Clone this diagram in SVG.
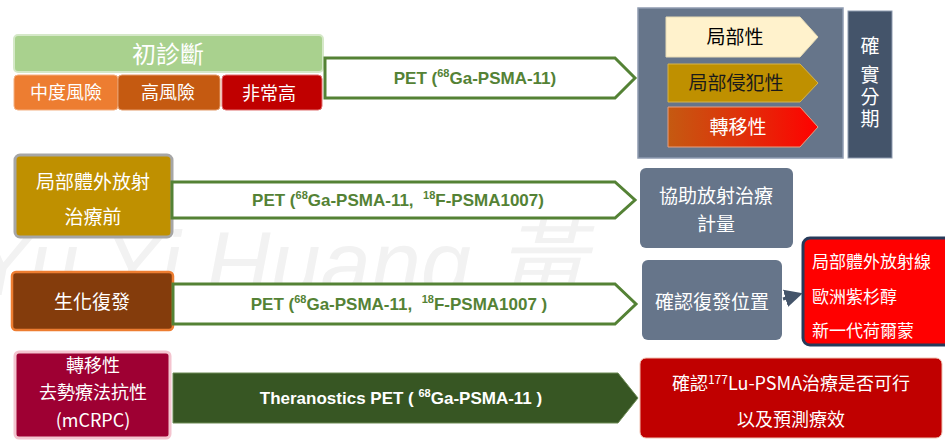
<svg xmlns="http://www.w3.org/2000/svg" width="945" height="443" viewBox="0 0 945 443">
<defs>
<style>
.cjk{font-family:"Noto Sans CJK TC","Noto Sans",sans-serif;}
.lat{font-family:"Liberation Sans","Noto Sans CJK TC",sans-serif;font-weight:bold;}
.w{fill:#ffffff;}
.g{fill:#548235;}
.outl{fill:#ffffff;stroke:#548235;stroke-width:3;}
.grey{fill:#66758a;}
</style>
<linearGradient id="red" x1="0" y1="0" x2="1" y2="0">
<stop offset="0" stop-color="#c55a11"/>
<stop offset="0.5" stop-color="#e0300a"/>
<stop offset="1" stop-color="#ff0000"/>
</linearGradient>
<marker id="ah" markerWidth="6" markerHeight="6" refX="4" refY="3" orient="auto" markerUnits="strokeWidth">
<path d="M0,0 L6,3 L0,6 z" fill="#44546a"/>
</marker>
</defs>
<rect width="945" height="443" fill="#ffffff"/>
<g id="watermark">
<text x="-28" y="295" font-family="Liberation Sans,sans-serif" font-style="italic" font-size="90" fill="#f2f2f2">Yu Yi Huang <tspan class="cjk">黃</tspan></text>
</g>

<g id="diag">
<rect x="14" y="35" width="309" height="37" rx="4" fill="#a9d18e" stroke="#d5e8c8" stroke-width="2"/>
<text x="168" y="63" class="cjk w" font-size="24" text-anchor="middle">初診斷</text>
</g>
<g id="risk-mid">
<rect x="14" y="75" width="104" height="35" rx="4" fill="#ed7d31" stroke="#f4b183" stroke-width="1"/>
<text x="66" y="99" class="cjk w" font-size="18" text-anchor="middle">中度風險</text>
</g>
<g id="risk-high">
<rect x="118" y="75" width="102" height="35" rx="4" fill="#c55a11" stroke="#e39b6b" stroke-width="1"/>
<text x="168" y="99" class="cjk w" font-size="18" text-anchor="middle">高風險</text>
</g>
<g id="risk-vhigh">
<rect x="222" y="75" width="100" height="35" rx="4" fill="#c00000" stroke="#e07070" stroke-width="1"/>
<text x="269" y="100" class="cjk w" font-size="18" text-anchor="middle">非常高</text>
</g>

<g id="staging">
<rect x="638" y="8" width="205" height="150" fill="#66758a" stroke="#8e9bb0" stroke-width="1.5"/>
<polygon points="666,17 800,17 818,37 800,57 666,57" fill="#fff2cc" stroke="#e8dcb5" stroke-width="1"/>
<text x="735" y="44" class="cjk" font-size="19" fill="#000" text-anchor="middle">局部性</text>
<polygon points="668,64 800,64 818,83 800,102 668,102" fill="#bf9000" stroke="#d8b44a" stroke-width="1"/>
<text x="736" y="90" class="cjk" font-size="19" fill="#1a1a1a" text-anchor="middle">局部侵犯性</text>
<polygon points="668,107 800,107 818,127 800,147 668,147" fill="url(#red)" stroke="#e8a080" stroke-width="1"/>
<text x="738" y="134" class="cjk w" font-size="19" text-anchor="middle">轉移性</text>
</g>
<g id="staging-label">
<rect x="848" y="11" width="44" height="147" fill="#44546a" stroke="#8e9bb0" stroke-width="1"/>
<text class="cjk w" font-size="19" text-anchor="middle"><tspan x="870" y="53">確</tspan><tspan x="870" y="82">實</tspan><tspan x="870" y="104">分</tspan><tspan x="870" y="126">期</tspan></text>
</g>

<g id="pre-ebrt">
<rect x="15" y="155" width="157" height="82" rx="5" fill="#bf9000" stroke="#a6a6a6" stroke-width="3"/>
<text x="93" y="189" class="cjk w" font-size="19" text-anchor="middle">局部體外放射</text>
<text x="93" y="224" class="cjk w" font-size="19" text-anchor="middle">治療前</text>
</g>
<g id="plan">
<rect x="640" y="168" width="153" height="80" rx="6" class="grey"/>
<text x="716" y="203" class="cjk w" font-size="19" text-anchor="middle">協助放射治療</text>
<text x="716" y="231" class="cjk w" font-size="19" text-anchor="middle">計量</text>
</g>

<g id="bcr">
<rect x="12" y="272" width="161" height="58" rx="4" fill="#843c0c" stroke="#ed7d31" stroke-width="2.5"/>
<text x="92" y="309" class="cjk w" font-size="19" text-anchor="middle">生化復發</text>
</g>
<g id="locate">
<rect x="642" y="260" width="140" height="80" rx="6" class="grey"/>
<text x="712" y="309" class="cjk w" font-size="19" text-anchor="middle">確認復發位置</text>
</g>
<g id="treat">
<rect x="803" y="238" width="150" height="107" rx="7" fill="#ff0000" stroke="#263a5a" stroke-width="3"/>
<text x="812" y="268" class="cjk w" font-size="17">局部體外放射線</text>
<text x="812" y="303" class="cjk w" font-size="17">歐洲紫杉醇</text>
<text x="812" y="337" class="cjk w" font-size="17">新一代荷爾蒙</text>
</g>

<g id="mcrpc">
<rect x="15" y="352" width="155" height="86" rx="4" fill="#9e0033" stroke="#f4c4cf" stroke-width="3"/>
<text x="93" y="372" class="cjk w" font-size="18" text-anchor="middle">轉移性</text>
<text x="93" y="399" class="cjk w" font-size="18" text-anchor="middle">去勢療法抗性</text>
<text x="93" y="427" class="cjk w" font-size="18" text-anchor="middle">(mCRPC)</text>
</g>
<g id="lu">
<rect x="640" y="358" width="302" height="80" rx="6" fill="#c00000" stroke="#f0c0b0" stroke-width="1"/>
<text x="791" y="390" class="cjk w" font-size="18" text-anchor="middle">確認<tspan font-size="12" dy="-6">177</tspan><tspan dy="6">Lu-PSMA治療是否可行</tspan></text>
<text x="791" y="426" class="cjk w" font-size="18" text-anchor="middle">以及預測療效</text>
</g>

<g id="connectors">
<polygon class="outl" points="325,58 615,58 635,78 615,98 325,98"/>
<text x="475" y="84" class="lat g" font-size="17" text-anchor="middle">PET (<tspan font-size="11" dy="-7">68</tspan><tspan dy="7">Ga-PSMA-11)</tspan></text>
<polygon class="outl" points="172,182 615,182 635,200 615,218 172,218"/>
<text x="398" y="206" class="lat g" font-size="17" text-anchor="middle">PET (<tspan font-size="11" dy="-7">68</tspan><tspan dy="7">Ga-PSMA-11,&#160; </tspan><tspan font-size="11" dy="-7">18</tspan><tspan dy="7">F-PSMA1007)</tspan></text>
<polygon class="outl" points="173,284 615,284 636,304 615,324 173,324"/>
<text x="399" y="310" class="lat g" font-size="17" text-anchor="middle">PET (<tspan font-size="11" dy="-7">68</tspan><tspan dy="7">Ga-PSMA-11,&#160; </tspan><tspan font-size="11" dy="-7">18</tspan><tspan dy="7">F-PSMA1007 )</tspan></text>
<polygon points="173,373 618,373 638,398 618,423 173,423" fill="#375623" stroke="#6d8a55" stroke-width="1"/>
<text x="401" y="404" class="lat w" font-size="17" text-anchor="middle">Theranostics PET ( <tspan font-size="11" dy="-7">68</tspan><tspan dy="7">Ga-PSMA-11 )</tspan></text>
<line x1="783" y1="299" x2="797" y2="295" stroke="#44546a" stroke-width="3" marker-end="url(#ah)"/>
</g>
</svg>
